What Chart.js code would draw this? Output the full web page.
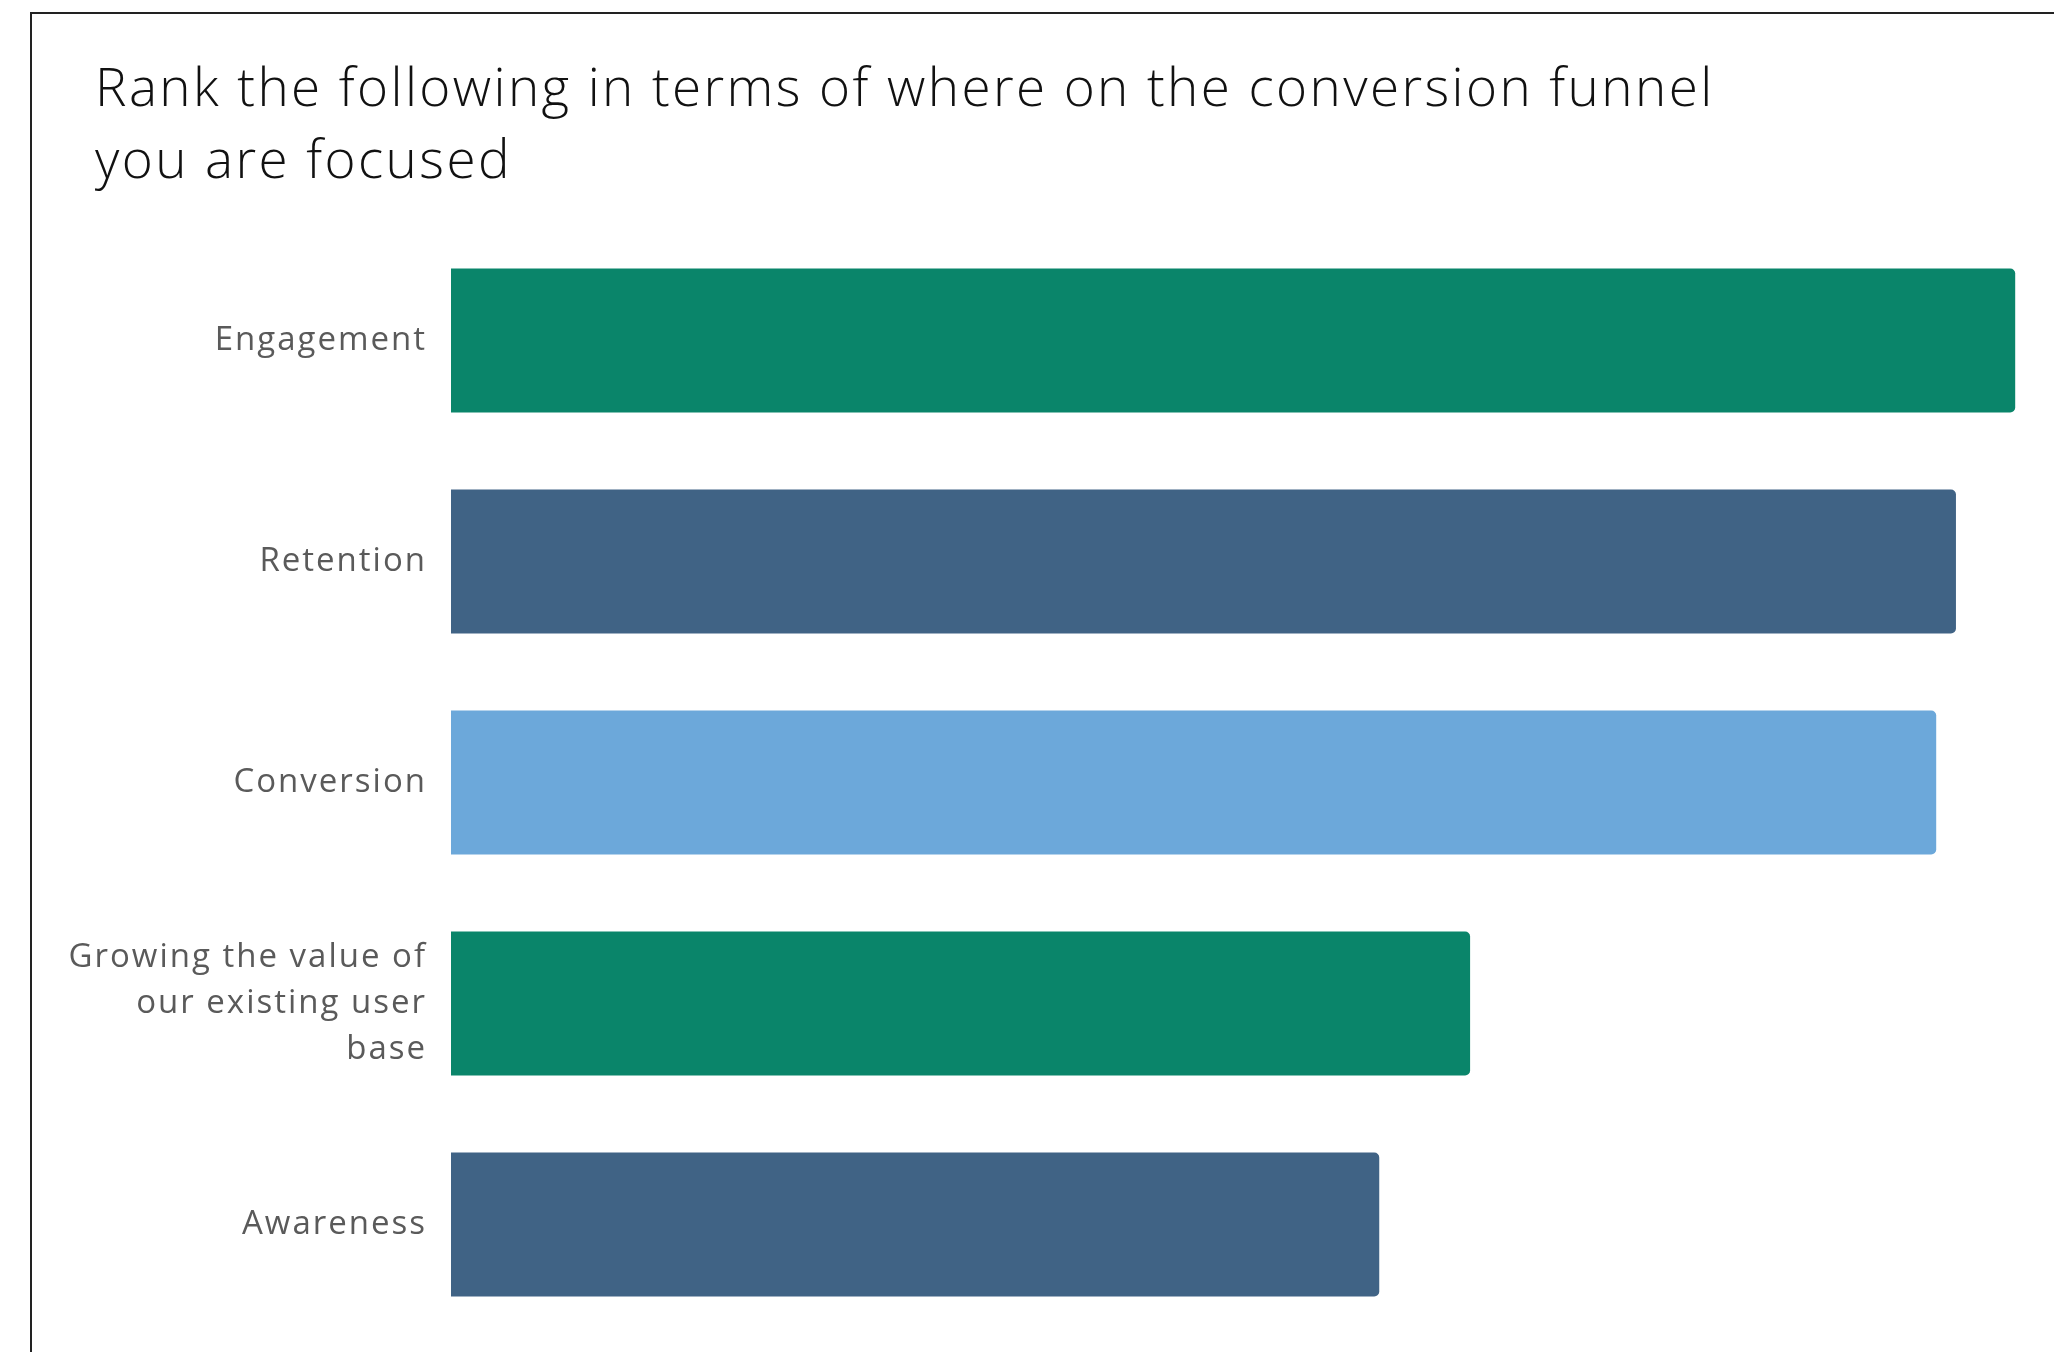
<!DOCTYPE html>
<html>
<head>
<meta charset="utf-8">
<script src="https://cdn.jsdelivr.net/npm/chart.js@4.4.1/dist/chart.umd.min.js"></script>
<style>
    html, body { margin: 0; padding: 0; background: #fff; overflow: hidden; }
    body { width: 2054px; height: 1352px; position: relative; }
    .frame {
        position: absolute; left: 30px; top: 12px;
        width: 2100px; height: 1400px;
        border-left: 2px solid #222; border-top: 2px solid #222;
    }
    .title {
        position: absolute; left: 95px; top: 50px;
        font-family: "Open Sans", sans-serif; font-weight: 300;
        font-size: 53px; line-height: 72px; color: #111;
        letter-spacing: 2.4px;
        white-space: nowrap;
    }
    #chart { position: absolute; left: 0; top: 0; }
</style>
</head>
<body>
<div class="frame"></div>
<div class="title">Rank the following in terms of where on the conversion funnel<br>you are focused</div>
<canvas id="chart" width="2054" height="1352"></canvas>
<script>
// Funnel stages, top to bottom
const categories = [
    'Engagement',
    'Retention',
    'Conversion',
    ['Growing the value of', 'our existing user', 'base'],
    'Awareness'
];
// Average rank score per stage
const scores = [3.96, 3.81, 3.76, 2.58, 2.35];
const barColors = ['#0a856a', '#406385', '#6ca8da', '#0a856a', '#406385'];

// slightly wider tracking for the category labels
const labelSpacing = {
    id: 'labelSpacing',
    beforeDraw(chart) {
        chart.ctx.letterSpacing = '2px';
    }
};

document.addEventListener('DOMContentLoaded', () => {
    const ctx = document.getElementById('chart').getContext('2d');

    new Chart(ctx, {
        type: 'bar',
        data: {
            labels: categories,
            datasets: [{
                data: scores,
                backgroundColor: barColors,
                borderRadius: { topRight: 5, bottomRight: 5, topLeft: 0, bottomLeft: 0 },
                borderSkipped: false,
                barPercentage: 0.652,
                categoryPercentage: 1
            }]
        },
        plugins: [labelSpacing],
        options: {
            indexAxis: 'y',
            responsive: false,
            animation: false,
            layout: {
                padding: { top: 230, bottom: 17, right: 23, left: 0 }
            },
            plugins: {
                legend: { display: false },
                tooltip: { enabled: false }
            },
            scales: {
                x: {
                    display: false,
                    min: 0,
                    max: 4
                },
                y: {
                    grid: { display: false, drawTicks: false },
                    border: { display: false },
                    ticks: {
                        padding: 24,
                        color: '#5a5a5a',
                        font: { family: '"Open Sans", sans-serif', size: 33, lineHeight: 1.4 }
                    },
                    afterFit: scale => {
                        scale.width = 451;
                        scale.paddingTop = 0;
                        scale.paddingBottom = 0;
                    }
                }
            }
        }
    });
});
</script>
</body>
</html>
